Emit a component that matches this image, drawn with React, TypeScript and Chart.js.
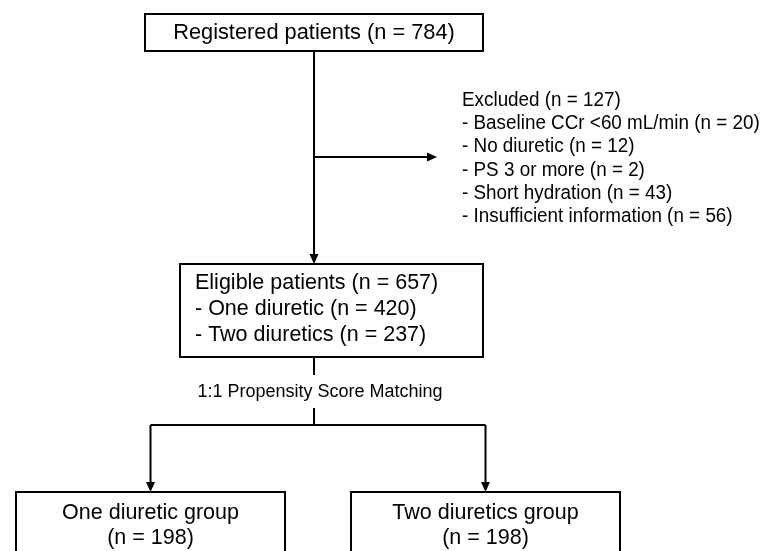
import React, { useEffect, useRef } from "react";
import { Chart, registerables } from "chart.js";

Chart.register(...registerables);

// ---- data ----
const nodeLabels = ["Registered patients", "Eligible patients", "One diuretic group", "Two diuretics group"];
const nodeCounts = [784, 657, 198, 198];
const eligibleSubLabels = ["One diuretic", "Two diuretics"];
const eligibleSubCounts = [420, 237];
const excludedLabel = "Excluded";
const excludedTotal = 127;
const excludedReasons = ["Baseline CCr <60 mL/min", "No diuretic", "PS 3 or more", "Short hydration", "Insufficient information"];
const excludedCounts = [20, 12, 2, 43, 56];
const matchingLabel = "1:1 Propensity Score Matching";

// ---- layout (in scale units) ----
const LAYOUT = {
  top: { x1: 145, x2: 483, y1: 14, y2: 51, ty: 33 },
  elig: { x1: 180, x2: 483, y1: 264, y2: 357, tx: 195, ty: [283, 309, 335] },
  left: { x1: 16, x2: 285, y1: 492, y2: 620, cx: 150.5, ty: [513, 538] },
  right: { x1: 351, x2: 620, y1: 492, y2: 620, cx: 485.5, ty: [513, 538] },
  stemX: 314,
  exclArrowY: 157,
  exclArrowX2: 437,
  exclTextX: 462,
  exclTextY0: 100,
  exclStep: 23.3,
  matchTop: 375,
  matchLabelX: 320,
  matchLabelY: 392,
  matchBottom: 408,
  branchY: 425,
};

const FONT = '"Liberation Sans", Arial, sans-serif';

const flowPlugin = {
  id: "flow",
  afterDraw(chart: any) {
    const ctx: CanvasRenderingContext2D = chart.ctx;
    const xs = chart.scales.x;
    const ys = chart.scales.y;
    const X = (v: number) => xs.getPixelForValue(v);
    const Y = (v: number) => ys.getPixelForValue(v);
    const L = LAYOUT;
    ctx.save();
    ctx.strokeStyle = "#000";
    ctx.fillStyle = "#000";
    ctx.lineWidth = 2;
    ctx.lineCap = "butt";

    const box = (b: any) => {
      ctx.fillStyle = "#fff";
      ctx.fillRect(X(b.x1), Y(b.y1), X(b.x2) - X(b.x1), Y(b.y2) - Y(b.y1));
      ctx.strokeRect(X(b.x1), Y(b.y1), X(b.x2) - X(b.x1), Y(b.y2) - Y(b.y1));
      ctx.fillStyle = "#000";
    };
    const line = (x1: number, y1: number, x2: number, y2: number) => {
      ctx.beginPath();
      ctx.moveTo(X(x1), Y(y1));
      ctx.lineTo(X(x2), Y(y2));
      ctx.stroke();
    };
    const arrowDown = (x: number, y1: number, y2: number) => {
      line(x, y1, x, y2 - 8);
      ctx.beginPath();
      ctx.moveTo(X(x) - 4.5, Y(y2) - 10);
      ctx.lineTo(X(x) + 4.5, Y(y2) - 10);
      ctx.lineTo(X(x), Y(y2));
      ctx.closePath();
      ctx.fill();
    };
    const arrowRight = (x1: number, x2: number, y: number) => {
      line(x1, y, x2 - 8, y);
      ctx.beginPath();
      ctx.moveTo(X(x2) - 10, Y(y) - 4.5);
      ctx.lineTo(X(x2) - 10, Y(y) + 4.5);
      ctx.lineTo(X(x2), Y(y));
      ctx.closePath();
      ctx.fill();
    };
    const text = (s: string, x: number, y: number, size: number, align: CanvasTextAlign, sx = 1) => {
      ctx.save();
      ctx.font = `${size}px ${FONT}`;
      ctx.textAlign = align;
      ctx.textBaseline = "middle";
      ctx.translate(X(x), Y(y));
      ctx.scale(sx, 1);
      ctx.fillText(s, 0, 0);
      ctx.restore();
    };

    // connectors
    arrowDown(L.stemX, L.top.y2, L.elig.y1);
    arrowRight(L.stemX, L.exclArrowX2, L.exclArrowY);
    line(L.stemX, L.elig.y2, L.stemX, L.matchTop);
    line(L.stemX, L.matchBottom, L.stemX, L.branchY);
    line(L.left.cx, L.branchY, L.right.cx, L.branchY);
    arrowDown(L.left.cx, L.branchY, L.left.y1);
    arrowDown(L.right.cx, L.branchY, L.right.y1);

    // boxes
    box(L.top);
    box(L.elig);
    box(L.left);
    box(L.right);

    // texts
    text(`${nodeLabels[0]} (n = ${nodeCounts[0]})`, (L.top.x1 + L.top.x2) / 2, L.top.ty, 21.8, "center");
    text(`${nodeLabels[1]} (n = ${nodeCounts[1]})`, L.elig.tx, L.elig.ty[0], 21.5, "left");
    eligibleSubLabels.forEach((s, i) => {
      text(`- ${s} (n = ${eligibleSubCounts[i]})`, L.elig.tx, L.elig.ty[i + 1], 21.5, "left");
    });
    text(`${excludedLabel} (n = ${excludedTotal})`, L.exclTextX, L.exclTextY0, 20.5, "left", 0.92);
    excludedReasons.forEach((s, i) => {
      text(`- ${s} (n = ${excludedCounts[i]})`, L.exclTextX, L.exclTextY0 + L.exclStep * (i + 1), 20.5, "left", 0.92);
    });
    text(matchingLabel, L.matchLabelX, L.matchLabelY, 18, "center");
    [L.left, L.right].forEach((b, i) => {
      text(nodeLabels[2 + i], b.cx, b.ty[0], 21.5, "center");
      text(`(n = ${nodeCounts[2 + i]})`, b.cx, b.ty[1], 21.5, "center");
    });

    ctx.restore();
  },
};

export default function App() {
  const ref = useRef<HTMLCanvasElement | null>(null);
  useEffect(() => {
    document.body.style.margin = "0";
    document.body.style.background = "#fff";
    const canvas = ref.current!;
    const chart = new Chart(canvas, {
      type: "scatter",
      data: { datasets: [{ data: [], pointRadius: 0 }] },
      options: {
        animation: false,
        responsive: false,
        maintainAspectRatio: false,
        layout: { padding: 0 },
        plugins: { legend: { display: false }, tooltip: { enabled: false } },
        scales: {
          x: { type: "linear", min: 0, max: 764, display: false },
          y: { type: "linear", min: 0, max: 551, reverse: true, display: false },
        },
      },
      plugins: [flowPlugin],
    });
    return () => chart.destroy();
  }, []);
  return (
    <div style={{ width: 764, height: 551, background: "#fff" }}>
      <canvas ref={ref} width={764} height={551} style={{ display: "block" }} />
    </div>
  );
}
